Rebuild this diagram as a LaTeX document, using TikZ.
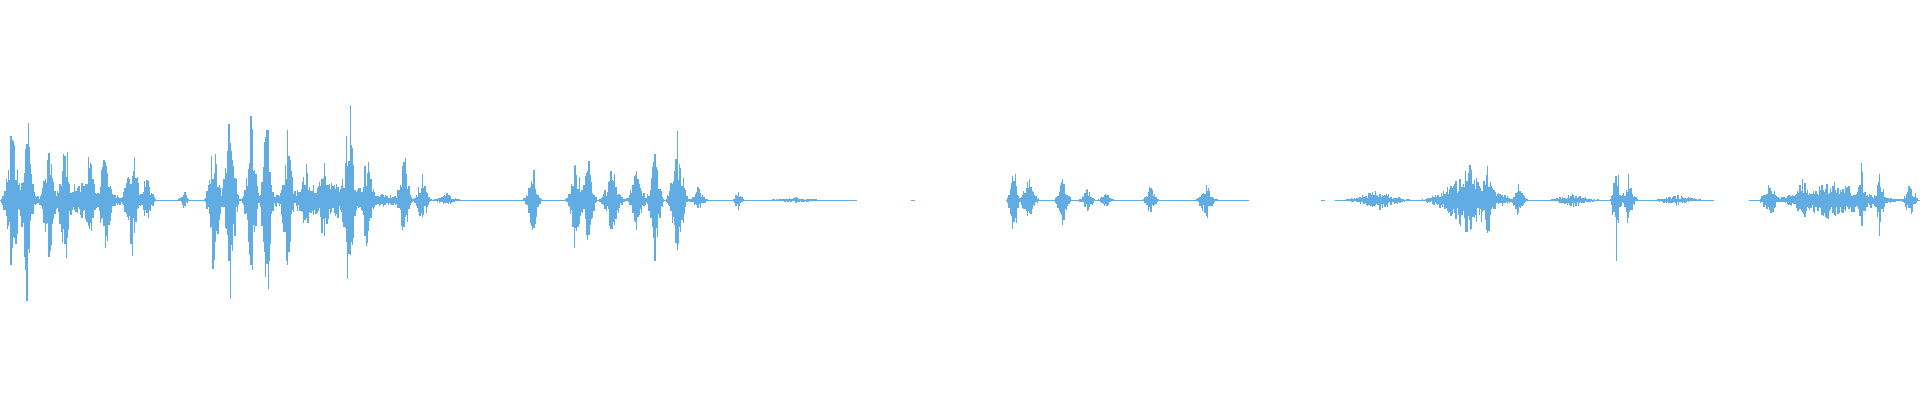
\documentclass[tikz,border=0pt]{standalone}
\usepackage{tikz}
\definecolor{wave}{RGB}{97,173,227}
\begin{document}
\begin{tikzpicture}[x=0.012245cm,y=0.012245cm,
    trace/.style={draw=wave,line width=0.35pt}]
    \pgfmathsetseed{7}
    \useasboundingbox (0,-163.5) rectangle (1568,163.5);
    % silent stretches
    \draw[trace] (0,0) -- (700,0);
    \draw[trace] (744,0) -- (747,0);
    \draw[trace] (826,0) -- (1020,0);
    \draw[trace] (1079,0) -- (1082,0);
    \draw[trace] (1092,0) -- (1400,0);
    \draw[trace] (1428,0) -- (1568,0);
    % bursts: centre/half width/amplitude
    \foreach \c/\w/\a in {
        65/65/14, 10/10/60, 22/8/70, 40/8/52, 53/8/55, 73/8/50, 86/8/50,
        108/10/45, 120/8/25, 150/5/8,
        270/100/14, 175/8/60, 188/8/80, 205/8/62, 218/6/97, 235/8/55,
        250/8/32, 265/10/35, 285/8/85, 300/8/40, 330/8/42, 345/8/20, 365/15/5,
        435/8/28, 470/8/42, 480/8/40, 500/12/25, 520/10/26, 535/8/42,
        553/10/52, 570/10/10, 603/5/10, 650/40/2,
        828/6/34, 840/10/18, 868/8/18, 888/8/10, 903/8/6, 940/8/12, 985/10/15,
        1125/35/8, 1200/45/25, 1200/5/30, 1215/6/32, 1240/8/14, 1285/30/5,
        1320/5/42, 1330/8/20, 1370/30/4,
        1498/70/15, 1445/10/16, 1472/10/18, 1520/5/33, 1535/6/25, 1560/8/16} {
      \foreach \i in {-\w,...,\w} {
        \pgfmathsetmacro\f{1.2*\a*(1-abs(\i/(\w+1)))^2}
        \pgfmathsetmacro\u{\f*(0.3+0.7*rnd)}
        \pgfmathsetmacro\d{\f*(0.3+0.7*rnd)}
        \draw[trace] (\c+\i,\u) -- (\c+\i,-\d);
      }
    }
\end{tikzpicture}
\end{document}
